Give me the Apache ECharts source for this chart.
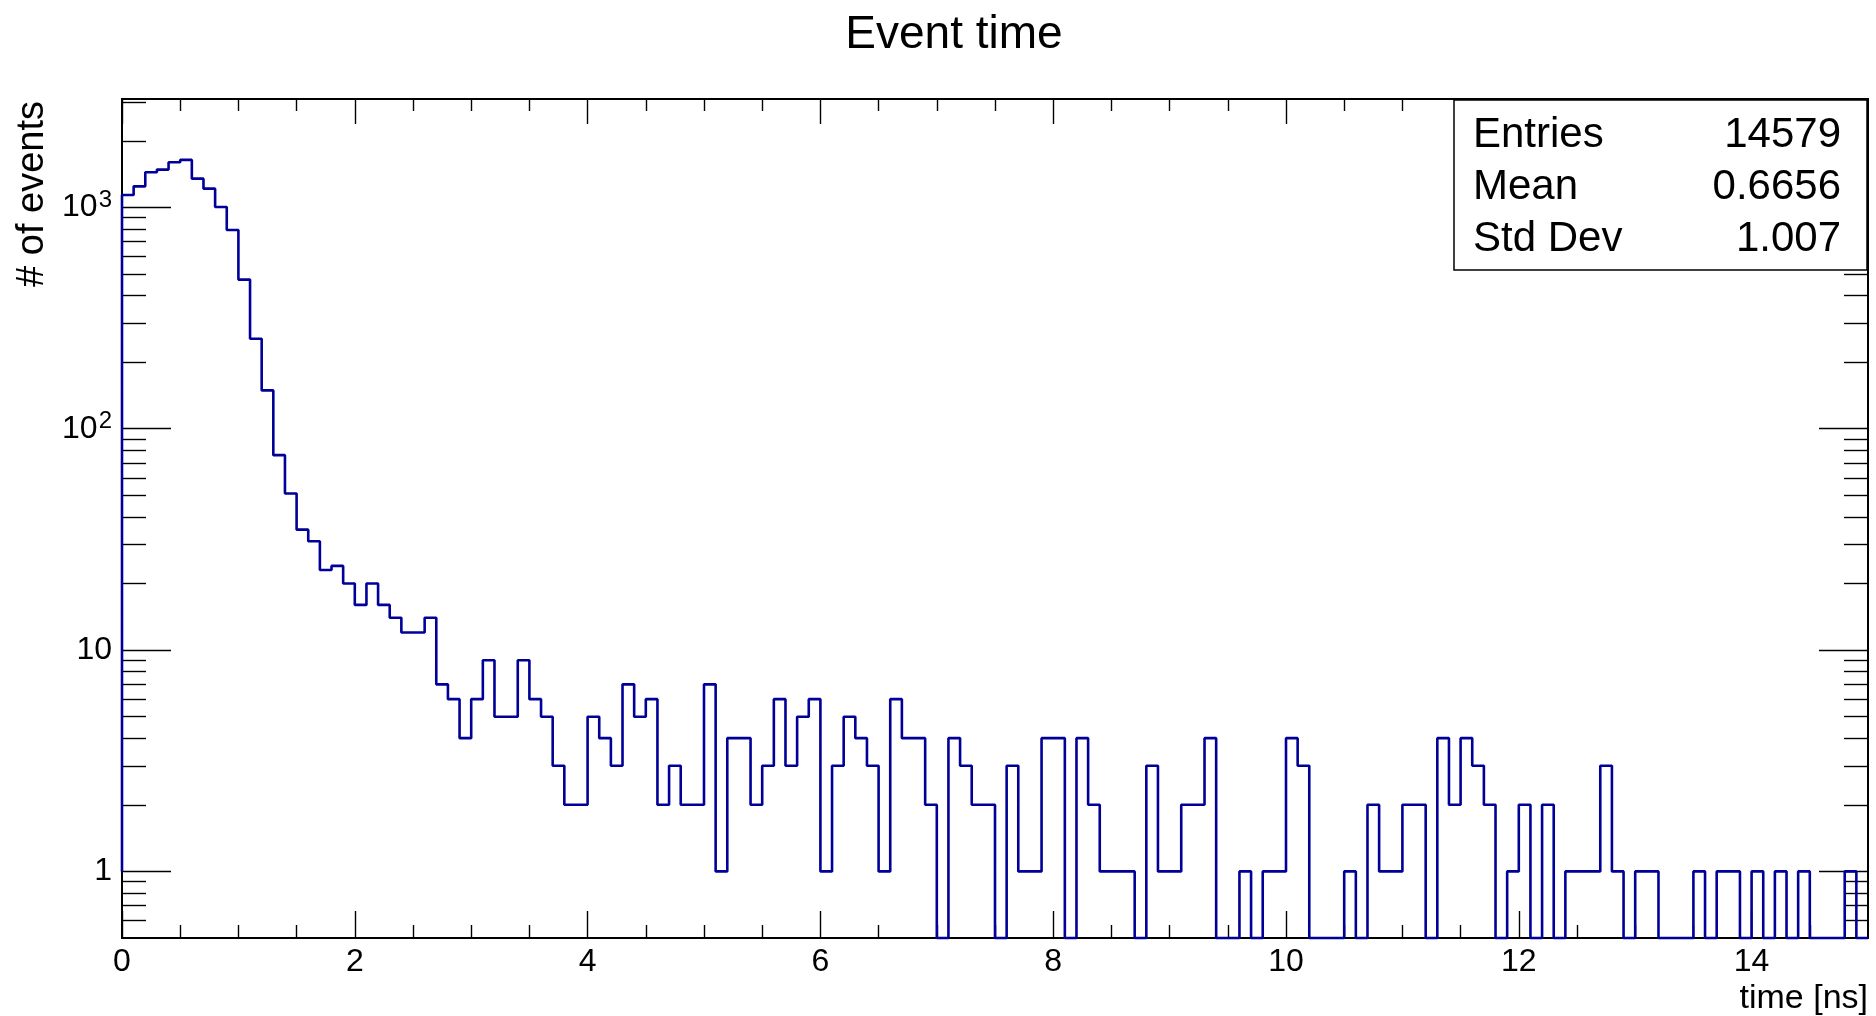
<!DOCTYPE html>
<html>
<head>
<meta charset="utf-8">
<script src="https://cdn.jsdelivr.net/npm/echarts@6/dist/echarts.min.js"></script>
<style>
  html, body { margin: 0; padding: 0; background: #fff; }
  #main { width: 1876px; height: 1016px; }
</style>
</head>
<body>
<div id="main"></div>
<script>
// histogram: 150 bins of 0.1 ns from 0 to 15 ns
var binWidth = 0.1;
var xStart = 0;
var counts = [
  1138, 1245, 1441, 1482, 1600, 1640, 1349, 1216, 1005, 791,
  472, 255, 149, 76, 51, 35, 31, 23, 24, 20,
  16, 20, 16, 14, 12, 12, 14, 7, 6, 4,
  6, 9, 5, 5, 9, 6, 5, 3, 2, 2,
  5, 4, 3, 7, 5, 6, 2, 3, 2, 2,
  7, 1, 4, 4, 2, 3, 6, 3, 5, 6,
  1, 3, 5, 4, 3, 1, 6, 4, 4, 2,
  0, 4, 3, 2, 2, 0, 3, 1, 1, 4,
  4, 0, 4, 2, 1, 1, 1, 0, 3, 1,
  1, 2, 2, 4, 0, 0, 1, 0, 1, 1,
  4, 3, 0, 0, 0, 1, 0, 2, 1, 1,
  2, 2, 0, 4, 2, 4, 3, 2, 0, 1,
  2, 0, 2, 0, 1, 1, 1, 3, 1, 0,
  1, 1, 0, 0, 0, 1, 0, 1, 1, 0,
  1, 0, 1, 0, 1, 0, 0, 0, 1, 0
];
var xMajorTicks = [0, 2, 4, 6, 8, 10, 12, 14];
var xMinorTicks = [0.5, 1, 1.5, 2.5, 3, 3.5, 4.5, 5, 5.5, 6.5, 7, 7.5, 8.5, 9, 9.5,
                   10.5, 11, 11.5, 12.5, 13, 13.5, 14.5];
var yMajorTicks = [1, 10, 100, 1000];
var yMinorTicks = [0.6, 0.7, 0.8, 0.9,
                   2, 3, 4, 5, 6, 7, 8, 9,
                   20, 30, 40, 50, 60, 70, 80, 90,
                   200, 300, 400, 500, 600, 700, 800, 900,
                   2000, 3000];
var statNames = ['Entries', 'Mean', 'Std Dev'];
var statValues = ['14579', '0.6656', '1.007'];

var xMin = 0, xMax = 15;
var yMin = 0.5, yMax = 3090;
var baseline = 1;
var FONT = '"Liberation Sans", Arial, Helvetica, sans-serif';

// outline of the histogram as a step line
var stepData = [[xStart, baseline]];
for (var i = 0; i < counts.length; i++) {
  stepData.push([xStart + i * binWidth, Math.max(counts[i], yMin)]);
}
stepData.push([xStart + counts.length * binWidth, Math.max(counts[counts.length - 1], yMin)]);

function xAxisDef(pos, ticks, len, labels) {
  return {
    type: 'value', position: pos, min: xMin, max: xMax,
    axisLine: { show: false, onZero: false },
    splitLine: { show: false },
    axisTick: { show: true, inside: true, length: len, customValues: ticks,
                lineStyle: { color: '#000', width: 1.4 } },
    axisLabel: labels ? { show: true, customValues: xMajorTicks, margin: 8,
                          color: '#000', fontSize: 32, fontFamily: FONT }
                      : { show: false }
  };
}
function yAxisDef(pos, ticks, len, labels) {
  return {
    type: 'log', logBase: 10, position: pos, min: yMin, max: yMax,
    axisLine: { show: false, onZero: false },
    splitLine: { show: false },
    axisTick: { show: true, inside: true, length: len, customValues: ticks,
                lineStyle: { color: '#000', width: 1.4 } },
    axisLabel: labels ? {
      show: true, customValues: yMajorTicks, margin: 10,
      color: '#000', fontSize: 32, fontFamily: FONT,
      formatter: function (v) {
        if (v < 11) return String(Math.round(v));
        return '10{sup|' + Math.round(Math.log10(v)) + '}';
      },
      rich: { sup: { fontSize: 24, fontFamily: FONT, color: '#000', padding: [0, 0, 14, 1] } }
    } : { show: false }
  };
}

var statsGroup = [{
  type: 'rect', shape: { x: 1454, y: 100, width: 413, height: 170 },
  style: { fill: '#fff', stroke: '#000', lineWidth: 1.5 }, z: 10
}];
statNames.forEach(function (name, k) {
  statsGroup.push({ type: 'text', x: 1473, y: 135 + k * 52, z: 11,
    style: { text: name, fill: '#000', fontSize: 42, fontFamily: FONT, align: 'left', verticalAlign: 'middle' } });
  statsGroup.push({ type: 'text', x: 1841, y: 135 + k * 52, z: 11,
    style: { text: statValues[k], fill: '#000', fontSize: 42, fontFamily: FONT, align: 'right', verticalAlign: 'middle' } });
});

var myChart = echarts.init(document.getElementById('main'));
var option = {
  backgroundColor: '#fff',
  animation: false,
  title: {
    text: 'Event time', left: 949, top: 7, textAlign: 'center',
    textStyle: { fontSize: 46, fontWeight: 'normal', color: '#000', fontFamily: FONT }
  },
  grid: {
    left: 122, top: 99, width: 1746, height: 839,
    show: true, borderColor: '#000', borderWidth: 2, backgroundColor: 'transparent',
    outerBoundsMode: 'none'
  },
  xAxis: [
    Object.assign(xAxisDef('bottom', xMajorTicks, 27, true), {
      name: 'time [ns]', nameLocation: 'end', nameGap: 0, nameMoveOverlap: false,
      nameTextStyle: { color: '#000', fontSize: 34, fontFamily: FONT, align: 'right',
                       verticalAlign: 'top', padding: [44, 0, 0, 0] }
    }),
    xAxisDef('bottom', xMinorTicks, 13, false),
    xAxisDef('top', xMajorTicks, 25, false),
    xAxisDef('top', xMinorTicks, 12, false)
  ],
  yAxis: [
    yAxisDef('left', yMajorTicks, 49, true),
    yAxisDef('left', yMinorTicks, 24, false),
    yAxisDef('right', yMajorTicks, 49, false),
    yAxisDef('right', yMinorTicks, 24, false)
  ],
  graphic: [
    { type: 'text', x: 33, y: 101, rotation: Math.PI / 2,
      style: { text: '# of events', fill: '#000', fontSize: 38, fontFamily: FONT,
               align: 'right', verticalAlign: 'middle' } },
    { type: 'group', children: statsGroup }
  ],
  series: [{
    name: 'Event time',
    type: 'line',
    xAxisIndex: 0, yAxisIndex: 0,
    step: 'end',
    symbol: 'none',
    clip: false,
    lineStyle: { color: '#000099', width: 2.6 },
    data: stepData
  }]
};
myChart.setOption(option);
</script>
</body>
</html>
